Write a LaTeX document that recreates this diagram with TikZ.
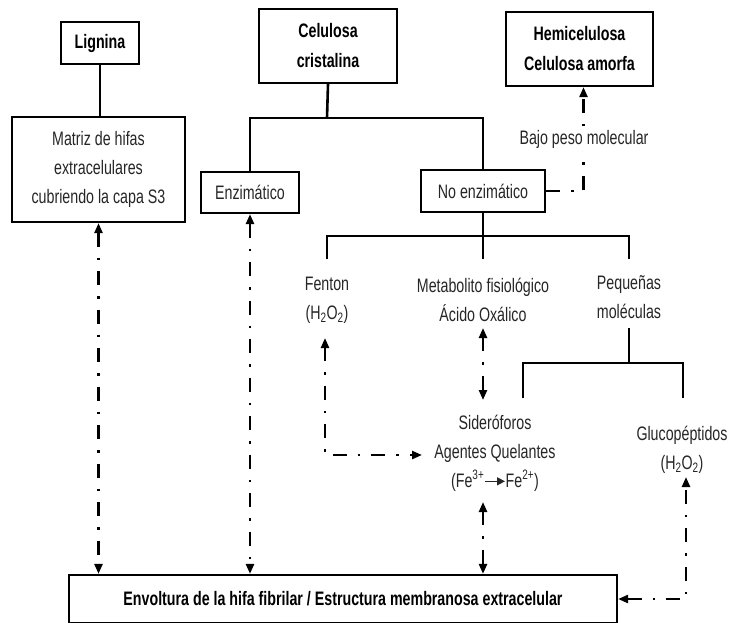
\documentclass[tikz,border=0pt]{standalone}
\usepackage{fontspec}
\setmainfont{Liberation Sans}[FakeStretch=0.73]
\usetikzlibrary{arrows.meta}
\begin{document}
\begin{tikzpicture}[x=1pt,y=-1pt,
  txt/.style={font=\fontsize{19.5}{29}\selectfont, text=black!85},
  btxt/.style={font=\fontsize{19.5}{30}\selectfont\bfseries, text=black},
  box/.style={draw, line width=2.2pt, align=center, inner sep=0pt},
  lbl/.style={txt, align=center, inner sep=0pt},
  sline/.style={line width=2.6pt},
  dd/.style={line width=2.4pt, dash pattern=on 14pt off 11pt on 2.5pt off 11pt},
  >={Triangle[length=10pt,width=8pt]}]
\useasboundingbox (0,0) rectangle (730,622);

% boxes
\node[box, btxt, minimum width=78, minimum height=42] (lig) at (100,43) {Lignina};
\node[box, btxt, minimum width=138, minimum height=74] (cel) at (328,46) {Celulosa\\cristalina};
\node[box, btxt, minimum width=147, minimum height=74] (hemi) at (579.5,49) {Hemicelulosa\\Celulosa amorfa};
\node[box, txt, minimum width=173, minimum height=105] (mat) at (98.5,169.5) {Matriz de hifas\\extracelulares\\cubriendo la capa S3};
\node[box, txt, minimum width=98, minimum height=41] (enz) at (250,192.5) {Enzim\'atico};
\node[box, txt, minimum width=124, minimum height=42] (noenz) at (483,191) {No enzim\'atico};
\node[box, btxt, minimum width=548, minimum height=48] (env) at (343,599) {Envoltura de la hifa fibrilar / Estructura membranosa extracelular};

% text labels
\node[lbl] (fen) at (327,300) {Fenton\\(H\textsubscript{2}O\textsubscript{2})};
\node[lbl] (meta) at (483,300) {Metabolito fisiol\'ogico\\\'Acido Ox\'alico};
\node[lbl] (peq) at (629,297) {Peque\~nas\\mol\'eculas};
\node[lbl] (sid) at (495,453) {Sider\'oforos\\Agentes Quelantes\\(Fe\textsuperscript{3+}\tikz[baseline=-0.3em]\draw[line width=1.3pt,-{Triangle[length=8pt,width=8pt]}] (0pt,0pt)--(20pt,0pt);Fe\textsuperscript{2+})};
\node[lbl] (glu) at (682,450) {Glucop\'eptidos\\(H\textsubscript{2}O\textsubscript{2})};

% coordinates for connector ends near free text
\coordinate (cb) at (327,118);
\coordinate (nb) at (483,236);
\coordinate (fT) at (327,259);
\coordinate (mT) at (483,259);
\coordinate (pT) at (629,259);
\coordinate (pS) at (629,328);
\coordinate (pb) at (629,363);
\coordinate (sT) at (523,398);
\coordinate (gT) at (683,398);
\coordinate (mB) at (483,328);
\coordinate (sTop) at (483,400);
\coordinate (sB) at (483,502);
\coordinate (fB) at (325,338);
\coordinate (fC) at (325,455);
\coordinate (aL) at (422,455);
\coordinate (gB) at (686,477);

% solid tree lines
\draw[sline] (lig.south) -- (lig.south |- mat.north);
\draw[sline] (cel.south) -- (cb);
\draw[sline] (enz.north) |- (cb) -| (noenz.north);
\draw[sline] (noenz.south) -- (nb);
\draw[sline] (fT) |- (nb) -| (pT);
\draw[sline] (nb) -- (mT);
\draw[sline] (pS) -- (pb);
\draw[sline] (sT) |- (pb) -| (gT);

% dash-dot arrows
\draw[dd,<->] (mat.south) -- (mat.south |- env.north);
\draw[dd,<->] (enz.south) -- (enz.south |- env.north);
\draw[dd,<->] (sB) -- (sB |- env.north);
\draw[dd,<->] (mB) -- (sTop);
\draw[dd,<->] (fB) -- (fC) -- (aL);
\draw[dd,<->] (env.east) -| (gB);
\draw[dd,->] (noenz.east) -| ([xshift=4pt]hemi.south);
\node[lbl, fill=white, inner sep=3pt] (bajo) at (584,139) {Bajo peso molecular};
\end{tikzpicture}
\end{document}
